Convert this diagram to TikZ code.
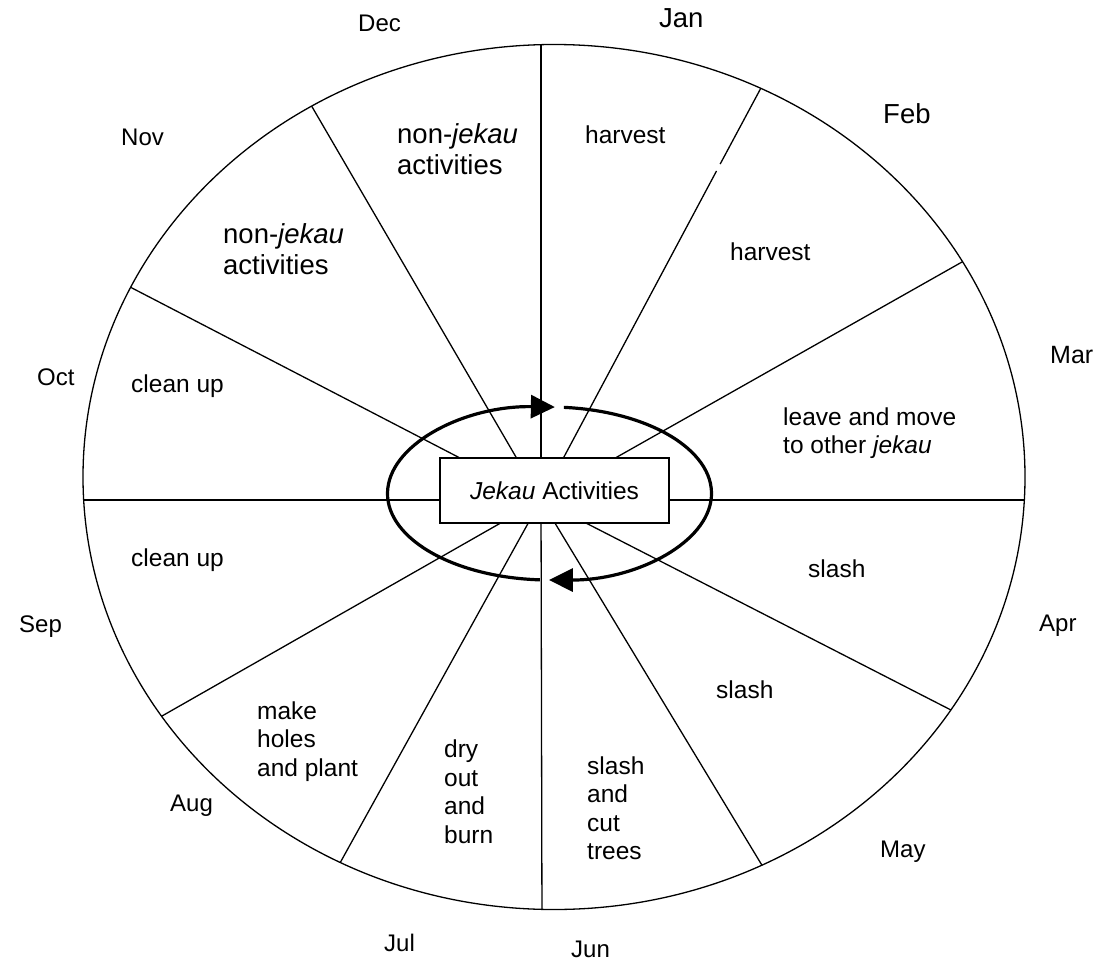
\documentclass[tikz,border=0pt]{standalone}
\usepackage{fontspec}
\setmainfont{Liberation Sans}
\usetikzlibrary{arrows.meta,calc}
\begin{document}
\begin{tikzpicture}[x=1pt,y=-1pt,
  rim/.style={line width=1.3pt},
  spoke/.style={line width=1.3pt},
  turn/.style={line width=3.2pt,-{Triangle[length=24pt,width=23pt]}},
  txt/.style={anchor=base west,inner sep=0pt,font=\fontsize{24.5}{28.6}\selectfont},
  bigtxt/.style={anchor=base west,inner sep=0pt,font=\fontsize{27.5}{31}\selectfont},
  month/.style={anchor=base west,inner sep=0pt,font=\fontsize{24}{28}\selectfont},
  bigmonth/.style={anchor=base west,inner sep=0pt,font=\fontsize{27.5}{31}\selectfont},
  centrebox/.style={draw,line width=1.4pt,fill=white,minimum width=229pt,minimum height=65pt,inner sep=0pt,font=\fontsize{24.5}{28.6}\selectfont}
]
\useasboundingbox (0,0) rectangle (1101,964);

% rim of the year wheel
\coordinate (rimc) at (554,477);
\draw[rim] (rimc) ellipse [x radius=471, y radius=432.5];

% hub where the month boundaries meet
\coordinate (hub) at (541,500);
\coordinate (b1) at (541,30);
\coordinate (b2) at (761,88);
\coordinate (b3) at (962,262);
\coordinate (b4) at (1040,500);
\coordinate (b5) at (949,709);
\coordinate (b6) at (760,862);
\coordinate (b7) at (542,930);
\coordinate (b8) at (340,863);
\coordinate (b9) at (162,716);
\coordinate (b10) at (60,500);
\coordinate (b11) at (132,288);
\coordinate (b12) at (311,105);
\coordinate (gapA) at (716.5,171);
\coordinate (gapB) at (720.2,164);

\begin{scope}
  \clip (rimc) ellipse [x radius=471, y radius=432.5];
  \foreach \b in {b1,b3,b4,b5,b6,b7,b8,b9,b10,b11,b12}
    \draw[spoke] (hub) -- ($(hub)!1.08!(\b)$);
  \draw[spoke] (hub) -- (gapA);
  \draw[spoke] (gapB) -- ($(hub)!1.08!(b2)$);
\end{scope}

% the yearly cycle around the centre
\coordinate (cyc) at (549.5,493.5);
\draw[turn] (cyc) ++(93.4:162 and 86.5) arc[start angle=93.4, end angle=271.9, x radius=162, y radius=86.5];
\draw[turn] (cyc) ++(275.1:162 and 86.5) arc[start angle=275.1, end angle=450.2, x radius=162, y radius=86.5];

\node[centrebox] (centre) at (554.5,490.5) {\textit{Jekau} Activities};

% month names around the rim
\node[month] (dec) at (358,31.5) {Dec};
\node[bigmonth] (jan) at (659,27) {Jan};
\node[bigmonth] (feb) at (883,123) {Feb};
\node[month,font=\fontsize{25}{29}\selectfont] (mar) at (1050,363) {Mar};
\node[month] (apr) at (1039,631.5) {Apr};
\node[month] (may) at (880,857) {May};
\node[month] (jun) at (571,957) {Jun};
\node[month] (jul) at (384,951) {Jul};
\node[month] (aug) at (170,811) {Aug};
\node[month] (sep) at (19,632) {Sep};
\node[month] (oct) at (37,385) {Oct};
\node[month] (nov) at (121,145) {Nov};

% activities in each month
\node[bigtxt] (decact) at (397,143) {\begin{tabular}[t]{@{}l@{}}non-\textit{jekau}\\activities\end{tabular}};
\node[bigtxt] (novact) at (223,243) {\begin{tabular}[t]{@{}l@{}}non-\textit{jekau}\\activities\end{tabular}};
\node[txt] (janact) at (585,143) {harvest};
\node[txt] (febact) at (730,260) {harvest};
\node[txt] (maract) at (783,425) {\begin{tabular}[t]{@{}l@{}}leave and move\\to other \textit{jekau}\end{tabular}};
\node[txt] (apract) at (808,577) {slash};
\node[txt] (mayact) at (716,698) {slash};
\node[txt] (junact) at (587,774) {\begin{tabular}[t]{@{}l@{}}slash\\and\\cut\\trees\end{tabular}};
\node[txt] (julact) at (444,757.5) {\begin{tabular}[t]{@{}l@{}}dry\\out\\and\\burn\end{tabular}};
\node[txt] (augact) at (257,719) {\begin{tabular}[t]{@{}l@{}}make\\holes\\and plant\end{tabular}};
\node[txt] (sepact) at (131,566) {clean up};
\node[txt] (octact) at (131,392) {clean up};
\end{tikzpicture}
\end{document}
